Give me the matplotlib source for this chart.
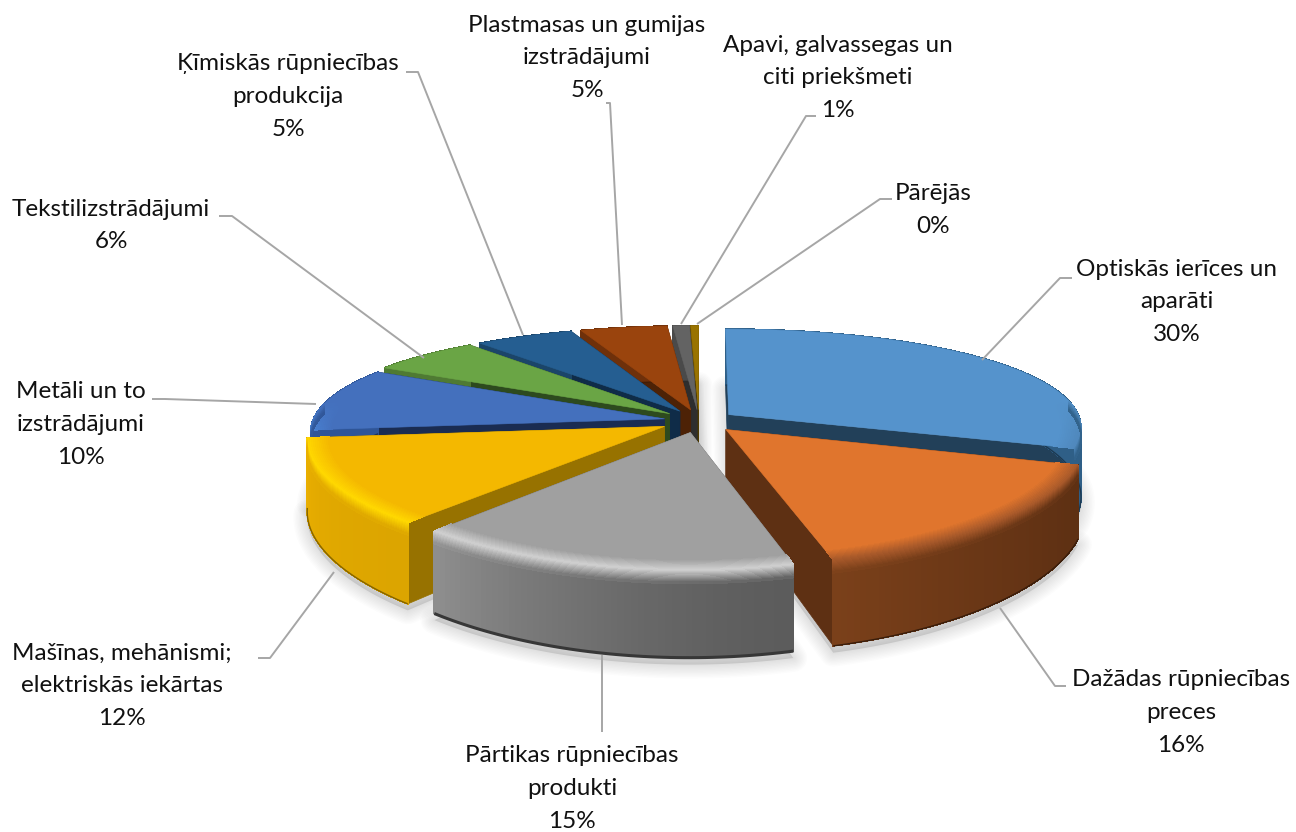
"""Exploded 3D pie chart of export shares, drawn with a small hand projection."""

import matplotlib

matplotlib.use("Agg")
import matplotlib.pyplot as plt
import numpy as np
from matplotlib.collections import PolyCollection
from matplotlib.colors import to_rgb
from matplotlib.patches import Polygon

plt.rcParams["font.family"] = ["Lato", "DejaVu Sans"]

# data
shares = [30.0, 15.85, 15.4, 12.1, 9.85, 5.9, 5.15, 4.5, 0.85, 0.4]
names = [
    ["Optiskās ierīces un", "aparāti"],
    ["Dažādas rūpniecības", "preces"],
    ["Pārtikas rūpniecības", "produkti"],
    ["Mašīnas, mehānismi;", "elektriskās iekārtas"],
    ["Metāli un to", "izstrādājumi"],
    ["Tekstilizstrādājumi"],
    ["Ķīmiskās rūpniecības", "produkcija"],
    ["Plastmasas un gumijas", "izstrādājumi"],
    ["Apavi, galvassegas un", "citi priekšmeti"],
    ["Pārējās"],
]
percents = ["30%", "16%", "15%", "12%", "10%", "6%", "5%", "5%", "1%", "0%"]

# style
top_colors = ["#5593CC", "#E0752D", "#A0A0A0", "#F4B800", "#4470BD", "#6AA545", "#255E91", "#9A440D", "#636363", "#997300"]
cut_colors = ["#224059", "#5E3013", "#606060", "#977200", "#1A2C52", "#2D4A1E", "#0F2C48", "#4D2206", "#2E2E2E", "#4D3A00"]
bevel_colors = ["#4F88BC", "#A8592A", "#D0D0D0", "#FFD800", "#4A86D8", "#6AA545", "#255E91", "#9A440D", "#636363", "#997300"]
wall_start = ["#2F5F87", "#5E3013", "#5C5C5C", "#DCA500", "#2F5597", "#4F7A33", "#1B4569", "#6E300A", "#4A4A4A", "#6E5200"]
wall_end = ["#2F5F87", "#7A401A", "#8E8E8E", "#E9AE00", "#2F5597", "#4F7A33", "#1B4569", "#6E300A", "#4A4A4A", "#6E5200"]
bottom_widths = [1.0, 1.0, 2.2, 1.0, 1.0, 1.0, 1.0, 1.0, 1.0, 1.0]
explode = [0.105, 0.11, 0.11, 0.11, 0.10, 0.11, 0.11, 0.11, 0.11, 0.11]

# label anchors: centre x, y of first line
label_pos = [(1177, 269), (1181, 680), (572, 756), (122, 653), (81, 392),
             (111, 209), (288, 64), (587, 25), (838, 45), (933, 194)]
leaders = [
    [(982, 360), (1060, 278), (1072, 278)],
    [(1000, 608), (1055, 686), (1066, 686)],
    [(602, 655), (602, 732)],
    [(334, 572), (270, 658), (258, 658)],
    [(316, 404), (165, 399), (152, 399)],
    [(424, 358), (232, 216), (219, 216)],
    [(523, 335), (418, 72), (406, 72)],
    [(622, 325), (610, 103), (606, 103)],
    [(681, 324), (806, 116), (816, 116)],
    [(697, 324), (880, 199), (892, 199)],
]

CX, CY = 699.0, 421.0
RX, RY = 352.0, 105.0
DEPTH = 68.0
PERSP_X = 0.12
PERSP_Y = 0.2


def project(u, v, z=0.0):
    sx = 1.0 / (1.0 - PERSP_X * v)
    sy = 1.0 / (1.0 - PERSP_Y * v)
    return CX + RX * u * sx, CY + RY * v * sy + DEPTH * z * sy


def lerp(c1, c2, t):
    a, b = np.array(to_rgb(c1)), np.array(to_rgb(c2))
    return tuple(a + (b - a) * t)


def arc_uv(a0, a1, off, r=1.0, n=60):
    ang = np.linspace(a0, a1, n)
    return r * np.sin(ang) + off[0], -r * np.cos(ang) + off[1]


def draw_slice(ax, a0, a1, i, zo):
    mid = (a0 + a1) / 2
    off = (explode[i] * np.sin(mid), -explode[i] * np.cos(mid))
    n = max(int((a1 - a0) * 60), 6)
    u, v = arc_uv(a0, a1, off, n=n)
    angs = np.linspace(a0, a1, n)

    # cut faces
    for k in (0, -1):
        pts = [project(off[0], off[1]), project(u[k], v[k]), project(u[k], v[k], 1), project(off[0], off[1], 1)]
        ax.add_patch(Polygon(pts, closed=True, fc=cut_colors[i], ec=cut_colors[i], lw=0.5, zorder=zo))

    # outer wall with its gradient along the arc
    quads, cols = [], []
    for j in range(n - 1):
        t = (j / (n - 2)) ** 1.5
        quads.append([project(u[j], v[j]), project(u[j + 1], v[j + 1]),
                      project(u[j + 1], v[j + 1], 1), project(u[j], v[j], 1)])
        cols.append(lerp(wall_start[i], wall_end[i], t))
    ax.add_collection(PolyCollection(quads, facecolors=cols, edgecolors=cols, linewidths=0.5,
                                     antialiaseds=False, zorder=zo))
    bx, by = project(u, v, 1)
    ax.plot(bx, by, color=lerp(wall_start[i], "#000000", 0.4), lw=bottom_widths[i], solid_capstyle="butt", zorder=zo)

    # top face
    tx, ty = project(u, v)
    ax.add_patch(Polygon([project(off[0], off[1])] + list(zip(tx, ty)), closed=True,
                         fc=top_colors[i], ec=top_colors[i], lw=0.4, zorder=zo))

    # rounded bevel between top and wall, only on the side facing the viewer
    rows = 24
    quads, cols = [], []
    steps = np.linspace(0, 1, rows)
    for p0, p1 in zip(steps[:-1], steps[1:]):
        r0, z0 = (0.94 + 0.06 * p0 / 0.5, 0.0) if p0 < 0.5 else (1.0, 0.15 * (p0 - 0.5) / 0.5)
        r1, z1 = (0.94 + 0.06 * p1 / 0.5, 0.0) if p1 < 0.5 else (1.0, 0.15 * (p1 - 0.5) / 0.5)
        ui, vi = arc_uv(a0, a1, off, r=r0, n=n)
        uo, vo = arc_uv(a0, a1, off, r=r1, n=n)
        for j in range(n - 1):
            facing = np.clip((-np.cos(angs[j]) + 0.15) / 0.3, 0, 1)
            if facing <= 0:
                continue
            wall = lerp(wall_start[i], wall_end[i], (j / (n - 2)) ** 1.5)
            bevel = lerp(top_colors[i], bevel_colors[i], facing)
            if p0 < 0.5:
                c = lerp(top_colors[i], bevel, p0 / 0.5)
            else:
                c = lerp(bevel, wall, (p0 - 0.5) / 0.5)
            quads.append([project(ui[j], vi[j], z0), project(ui[j + 1], vi[j + 1], z0),
                          project(uo[j + 1], vo[j + 1], z1), project(uo[j], vo[j], z1)])
            cols.append(c)
    if quads:
        ax.add_collection(PolyCollection(quads, facecolors=cols, edgecolors=cols, linewidths=0.5,
                                         antialiaseds=False, zorder=zo))


def draw_shadow(ax, a0, a1, i):
    mid = (a0 + a1) / 2
    off = (explode[i] * np.sin(mid), -explode[i] * np.cos(mid))
    u, v = arc_uv(a0, a1, off)
    x, y = project(u, v, 1.08)
    pts = [project(off[0], off[1], 1.08)] + list(zip(x, y))
    ax.add_patch(Polygon(pts, closed=True, fc=(0, 0, 0, 0.1), ec="none", zorder=0.5))
    for lw in range(2, 22, 2):
        ax.add_patch(Polygon(pts, closed=True, fc="none", ec=(0, 0, 0, 0.012), lw=lw, joinstyle="round", zorder=0.5))


fig = plt.figure(figsize=(12.96, 8.32), dpi=100)
ax = fig.add_axes([0, 0, 1, 1])
ax.set_xlim(0, 1296)
ax.set_ylim(832, 0)
ax.axis("off")

edges = np.cumsum([0.0] + shares) / sum(shares) * 2 * np.pi
for i in range(len(shares)):
    draw_shadow(ax, edges[i], edges[i + 1], i)

# back slices first
mids = (edges[:-1] + edges[1:]) / 2
for rank, i in enumerate(np.argsort(-np.cos(mids))):
    draw_slice(ax, edges[i], edges[i + 1], i, 2 + rank)

for path in leaders:
    xs, ys = zip(*path)
    ax.plot(xs, ys, color="#A6A6A6", lw=1.4, solid_capstyle="butt", zorder=20)

for name, pct, (x, y) in zip(names, percents, label_pos):
    for k, line in enumerate(name + [pct]):
        ax.text(x, y + k * 32.8, line, ha="center", va="center", fontsize=17.5, color="#111111", zorder=21)

fig.savefig("out.png", dpi=100)
